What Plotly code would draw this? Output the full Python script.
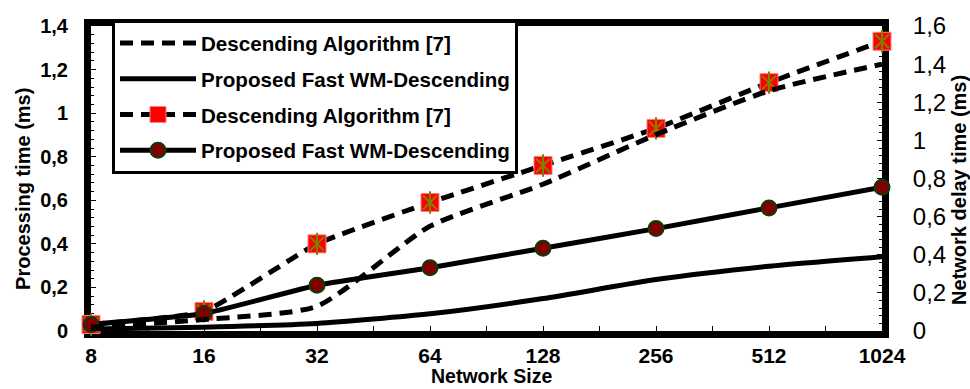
import plotly.graph_objects as go

# ---- data ----
network_sizes = ["8", "16", "32", "64", "128", "256", "512", "1024"]
x_idx = list(range(len(network_sizes)))

# Network delay time (ms) -> right axis
delay_descending = [0.02, 0.06, 0.13, 0.55, 0.77, 1.03, 1.26, 1.40]
delay_proposed = [0.01, 0.02, 0.04, 0.09, 0.17, 0.27, 0.34, 0.39]

# Processing time (ms) -> left axis
proc_descending = [0.03, 0.09, 0.40, 0.59, 0.76, 0.93, 1.14, 1.33]
proc_proposed = [0.03, 0.08, 0.21, 0.29, 0.38, 0.47, 0.565, 0.66]

name_desc = "Descending Algorithm [7]"
name_prop = "Proposed Fast WM-Descending"

FONT = "Liberation Sans, Arial, sans-serif"
DASH = "13px,8px"
OLIVE = "#808000"

fig = go.Figure()

fig.add_trace(go.Scatter(
    x=x_idx, y=delay_descending, yaxis="y2", name=name_desc, mode="lines",
    line=dict(color="black", width=5, dash=DASH, shape="spline", smoothing=0.6),
    legendgroup="g1"))
fig.add_trace(go.Scatter(
    x=x_idx, y=delay_proposed, yaxis="y2", name=name_prop, mode="lines",
    line=dict(color="black", width=5, shape="spline", smoothing=0.6),
    legendgroup="g2"))
fig.add_trace(go.Scatter(
    x=x_idx, y=proc_descending, yaxis="y", name=name_desc, mode="lines+markers",
    line=dict(color="black", width=5, dash=DASH, shape="spline", smoothing=0.4),
    marker=dict(symbol="square", size=18, color="#FF0000",
                line=dict(color="#FF8080", width=1)),
    cliponaxis=False, legendgroup="g3"))
fig.add_trace(go.Scatter(
    x=x_idx, y=proc_descending, yaxis="y", mode="markers", showlegend=False,
    marker=dict(symbol="x-thin-open", size=14, color=OLIVE, line=dict(color=OLIVE, width=2)),
    cliponaxis=False, hoverinfo="skip", legendgroup="g3"))
fig.add_trace(go.Scatter(
    x=x_idx, y=proc_descending, yaxis="y", mode="markers", showlegend=False,
    marker=dict(symbol="line-ns-open", size=16, color=OLIVE, line=dict(color=OLIVE, width=2)),
    cliponaxis=False, hoverinfo="skip", legendgroup="g3"))
fig.add_trace(go.Scatter(
    x=x_idx, y=proc_proposed, yaxis="y", name=name_prop, mode="lines+markers",
    line=dict(color="black", width=5, shape="spline", smoothing=0.4),
    marker=dict(symbol="circle", size=15, color="#800000",
                line=dict(color="#0B3D0B", width=2)),
    cliponaxis=False, legendgroup="g4"))

L, R, T, B = 91, 88, 24, 58
W, H = 970, 389
pw = W - L - R
ph = H - T - B

def px_x(p):
    return (p - L) / pw

def px_y(p):
    return (H - B - p) / ph

fig.update_layout(
    width=W, height=H,
    margin=dict(l=L, r=R, t=T, b=B),
    paper_bgcolor="white", plot_bgcolor="white",
    separators=", ",
    font=dict(family=FONT, color="black"),
    showlegend=True,
    legend=dict(
        x=px_x(112), y=px_y(18), xanchor="left", yanchor="top",
        bgcolor="white", bordercolor="black", borderwidth=3,
        font=dict(family=FONT, size=20.6, color="black", weight="bold"),
        traceorder="grouped", tracegroupgap=6, itemwidth=76,
    ),
    xaxis=dict(
        range=[0, 7], tickvals=x_idx, ticktext=network_sizes,
        showline=True, linecolor="black", linewidth=7, mirror=True,
        ticks="inside", ticklen=5, tickwidth=1, tickcolor="black",
        minor=dict(dtick=0.5, tick0=0, ticks="inside", ticklen=5, tickwidth=1, tickcolor="black"),
        showgrid=False, zeroline=False, layer="below traces",
        tickfont=dict(family=FONT, size=21, weight="bold"),
        ticklabelstandoff=0,
    ),
    yaxis=dict(
        range=[0, 1.4], dtick=0.2, tick0=0,
        showline=True, linecolor="black", linewidth=7, mirror=True,
        ticks="inside", ticklen=5, tickwidth=1, tickcolor="black",
        minor=dict(dtick=0.04, tick0=0, ticks="inside", ticklen=3, tickwidth=1, tickcolor="black"),
        showgrid=False, zeroline=False, layer="below traces",
        tickfont=dict(family=FONT, size=20, weight="bold"),
        ticklabelstandoff=12,
    ),
    yaxis2=dict(
        range=[0, 1.6], dtick=0.2, tick0=0, overlaying="y", side="right",
        showline=True, linecolor="black", linewidth=7,
        ticks="inside", ticklen=5, tickwidth=1, tickcolor="black",
        minor=dict(dtick=0.04, tick0=0, ticks="inside", ticklen=3, tickwidth=1, tickcolor="black"),
        showgrid=False, zeroline=False, layer="below traces",
        tickfont=dict(family=FONT, size=24),
        ticklabelstandoff=19,
    ),
    annotations=[
        dict(text="<b>Network Size</b>", xref="paper", yref="paper",
             x=px_x(492), y=px_y(376), xanchor="center", yanchor="middle",
             showarrow=False, font=dict(family=FONT, size=19.5, color="black")),
        dict(text="<b>Processing time (ms)</b>", xref="paper", yref="paper",
             x=px_x(23), y=px_y(188), xanchor="center", yanchor="middle",
             showarrow=False, textangle=-90,
             font=dict(family=FONT, size=20, color="black")),
        dict(text="<b>Network delay time (ms)</b>", xref="paper", yref="paper",
             x=px_x(959), y=px_y(189), xanchor="center", yanchor="middle",
             showarrow=False, textangle=-90,
             font=dict(family=FONT, size=20, color="black")),
    ],
)

fig.write_html("out.html")
